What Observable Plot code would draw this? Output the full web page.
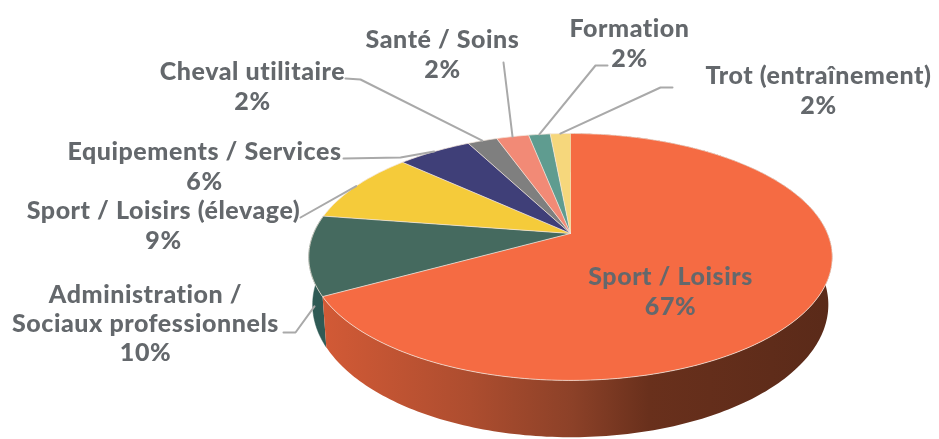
<!DOCTYPE html>
<html>
<head>
<meta charset="utf-8">
<script src="https://cdn.jsdelivr.net/npm/d3@7"></script>
<script src="https://cdn.jsdelivr.net/npm/@observablehq/plot@0.6"></script>
<style>html,body{margin:0;padding:0;background:#fff}</style>
</head>
<body>
<div id="chart"></div>
<script>
// Categories and shares, clockwise from 12 o'clock (the labels show the rounded shares)
const categories = ["Sport / Loisirs", "Administration /\nSociaux professionnels", "Sport / Loisirs (élevage)", "Equipements / Services", "Cheval utilitaire", "Santé / Soins", "Formation", "Trot (entraînement)"];
const shares = [67, 10.4, 9.4, 5.5, 2.2, 2.4, 1.6, 1.5];
const colors = ["#F56B43", "#456A5F", "#F5CB3A", "#3F3F78", "#7F7F7F", "#F28A76", "#5F9C90", "#F6D77C"];
// Where each label block sits, and where its leader line leaves it
const labelX = [670, 145, 163, 204, 252, 442, 629, 818];
const labelY = [290, 322, 224, 165, 85, 53, 42, 89];
const leaderStart = [null, [[283, 332], [295, 332]], [[300, 217]], [[343, 158], [400, 157]], [[345, 78], [360, 79]], [[503, 62]], [[607, 65], [595, 65]], [[672, 87], [660, 87]]];
// Perspective pie: apex, radii, tilt and wall depth
const apex = [570, 233], radiusX = 257, radiusY = 119, tilt = 0.19, depth = 46, baseShrink = 0.985;

const rim = (angle, drop = 0) => {
  const u = Math.sin(angle), v = Math.cos(angle), w = 1 + tilt * v;
  const shrink = 1 - (1 - baseShrink) * drop;
  return [apex[0] + shrink * radiusX * u / w, apex[1] - radiusY * v / w + drop * depth / w];
};
const arcAngles = (a0, a1) => {
  const n = Math.max(2, Math.ceil((a1 - a0) / (Math.PI / 180)));
  return d3.range(n + 1).map(i => a0 + (a1 - a0) * i / n);
};
const total = d3.sum(shares);
let acc = 0;
const slices = shares.map((s, i) => {
  const a0 = acc / total * 2 * Math.PI; acc += s;
  const a1 = acc / total * 2 * Math.PI;
  return {i, a0, a1, mid: (a0 + a1) / 2};
});
const topPolygon = s => [apex, ...arcAngles(s.a0, s.a1).map(a => rim(a))];
const wallPolygon = s => {
  const as = arcAngles(s.a0, s.a1);
  return [...as.map(a => rim(a)), ...as.slice().reverse().map(a => rim(a, 1))];
};
const xy = {x: d => d[0], y: d => d[1]};

const wallGradient = () => {
  const ns = "http://www.w3.org/2000/svg";
  const defs = document.createElementNS(ns, "defs");
  const g = document.createElementNS(ns, "linearGradient");
  g.setAttribute("id", "wallGrad");
  [[0, "#d25a36"], [0.29, "#ad4d2f"], [0.49, "#8c4128"], [0.64, "#69301c"], [1, "#5a2a19"]].forEach(([o, c]) => {
    const st = document.createElementNS(ns, "stop");
    st.setAttribute("offset", o); st.setAttribute("stop-color", c);
    g.appendChild(st);
  });
  defs.appendChild(g);
  return defs;
};

const leaders = slices.slice(1).map(s => {
  const end = s.i === 1 ? rim(s.a0 + 0.155, 0.6) : rim(s.mid);
  return [...leaderStart[s.i], end];
});

const chart = Plot.plot({
  width: 939, height: 439,
  marginTop: 0, marginRight: 0, marginBottom: 0, marginLeft: 0,
  x: {domain: [0, 939], range: [0, 939], axis: null},
  y: {domain: [0, 439], range: [0, 439], axis: null},
  style: {background: "#fff", filter: "blur(0.7px)", letterSpacing: "0.55px"},
  marks: [
    wallGradient,
    Plot.line(wallPolygon(slices[1]), {...xy, fill: "#2f5a55", stroke: "#2f5a55", strokeWidth: 0.5}),
    Plot.line(wallPolygon(slices[0]), {...xy, fill: "url(#wallGrad)", stroke: "none"}),
    ...slices.map(s => Plot.line(topPolygon(s), {...xy, fill: colors[s.i], stroke: "#f3e6dc", strokeWidth: 1, strokeOpacity: 0.75})),
    ...leaders.map(l => Plot.line(l, {...xy, stroke: "#a9a9a9", strokeWidth: 2})),
    Plot.text(categories.map((c, i) => ({c, i})), {
      x: d => labelX[d.i], y: d => labelY[d.i],
      text: d => `${d.c}\n${Math.round(shares[d.i])}%`,
      fill: "#64686c", fontFamily: "Lato", fontWeight: 900, fontSize: 25, lineHeight: 1.17,
      textAnchor: "middle", lineAnchor: "middle"
    })
  ]
});
document.getElementById("chart").appendChild(chart);
</script>
</body>
</html>
